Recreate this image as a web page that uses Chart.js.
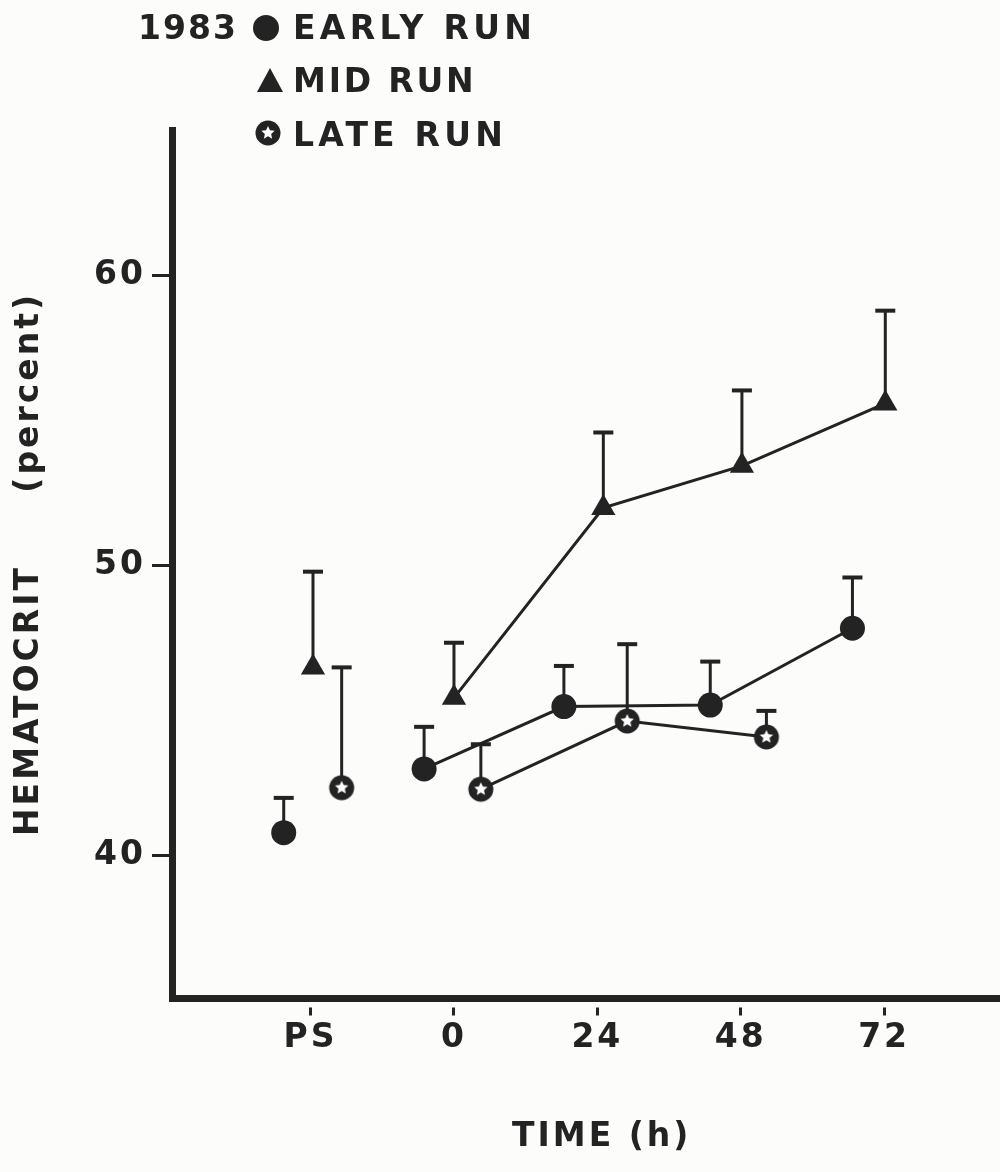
<!DOCTYPE html>
<html>
<head>
<meta charset="utf-8">
<title>Hematocrit 1983</title>
<script src="https://cdn.jsdelivr.net/npm/chart.js@4.4.1/dist/chart.umd.min.js"></script>
<style>
  html, body { margin: 0; padding: 0; background: #fcfcfa; }
  canvas { display: block; }
</style>
</head>
<body>
<canvas id="grafico" width="1000" height="1172"></canvas>
<script>
// Datos (hematocrito en %, tiempo en h)
const tiempoTicks = [-24, 0, 24, 48, 72];
const tiempoEtiquetas = ['PS', '0', '24', '48', '72'];
const hematocritoTicks = [40, 50, 60];

const earlyX = [-28.5, -5, 18.4, 42.9, 66.7];
const earlyY = [40.8, 43.0, 45.15, 45.2, 47.85];
const earlySD = [1.2, 1.45, 1.4, 1.5, 1.75];

const midX = [-23.6, 0, 25, 48.2, 72.2];
const midY = [46.5, 45.45, 52.0, 53.45, 55.6];
const midSD = [3.3, 1.9, 2.6, 2.6, 3.2];

const lateX = [-18.8, 4.5, 29, 52.3];
const lateY = [42.35, 42.3, 44.65, 44.1];
const lateSD = [4.15, 1.55, 2.65, 0.9];

const tinta = '#232323';
const fuente = '"DejaVu Sans", sans-serif';

// Marcador circular con estrella blanca (LATE RUN)
function marcadorEstrella() {
    const c = document.createElement('canvas');
    c.width = 28;
    c.height = 28;
    const g = c.getContext('2d');
    g.fillStyle = tinta;
    g.beginPath();
    g.arc(14, 14, 12.5, 0, Math.PI * 2);
    g.fill();
    g.fillStyle = '#ffffff';
    g.beginPath();
    for (let i = 0; i < 10; i++) {
        const r = i % 2 === 0 ? 7 : 3.3;
        const a = -Math.PI / 2 + i * Math.PI / 5;
        const px = 14 + r * Math.cos(a);
        const py = 14 + r * Math.sin(a);
        if (i === 0) g.moveTo(px, py); else g.lineTo(px, py);
    }
    g.closePath();
    g.fill();
    return c;
}
const imgEstrella = marcadorEstrella();

function puntos(xs, ys) {
    return xs.map((x, i) => ({ x: x, y: ys[i] }));
}

// El punto PS no va unido al resto
const sinTramoPS = {
    borderColor: ctx => ctx.p0DataIndex === 0 ? 'rgba(0,0,0,0)' : tinta
};

// Barras de error (solo hacia arriba, con tope)
const barrasError = {
    id: 'barrasError',
    beforeDatasetsDraw(chart) {
        const ctx = chart.ctx;
        const xs = chart.scales.x;
        const ys = chart.scales.y;
        ctx.save();
        ctx.strokeStyle = tinta;
        ctx.fillStyle = tinta;
        ctx.lineWidth = 3;
        chart.data.datasets.forEach(ds => {
            ds.data.forEach((p, i) => {
                const x = xs.getPixelForValue(p.x);
                const y0 = ys.getPixelForValue(p.y);
                const y1 = ys.getPixelForValue(p.y + ds.sd[i]);
                ctx.beginPath();
                ctx.moveTo(x, y0);
                ctx.lineTo(x, y1);
                ctx.stroke();
                ctx.fillRect(x - 10, y1 - 2, 20, 4);
            });
        });
        ctx.restore();
    }
};

// Espaciado de letras y textos fijos (leyenda y título del eje X)
const textos = {
    id: 'textos',
    beforeDraw(chart) {
        chart.ctx.letterSpacing = '3px';
    },
    afterDraw(chart) {
        const ctx = chart.ctx;
        ctx.save();
        ctx.fillStyle = tinta;
        ctx.font = 'bold 33px ' + fuente;
        ctx.textBaseline = 'alphabetic';
        ctx.textAlign = 'left';
        ctx.letterSpacing = '2px';
        ctx.fillText('1983', 138, 39);
        ctx.letterSpacing = '4.3px';
        ctx.fillText('EARLY RUN', 293, 39);
        ctx.letterSpacing = '2.8px';
        ctx.fillText('MID RUN', 293, 92);
        ctx.letterSpacing = '4.2px';
        ctx.fillText('LATE RUN', 293, 146);

        // marcadores de la leyenda
        ctx.beginPath();
        ctx.arc(266, 28, 13, 0, Math.PI * 2);
        ctx.fill();
        ctx.beginPath();
        ctx.moveTo(270, 68);
        ctx.lineTo(283, 92);
        ctx.lineTo(257, 92);
        ctx.closePath();
        ctx.fill();
        ctx.drawImage(imgEstrella, 268 - 14, 133 - 14);

        ctx.letterSpacing = '3px';
        ctx.fillText('TIME (h)', 512, 1146);
        ctx.restore();
    }
};

new Chart(document.getElementById('grafico'), {
    type: 'scatter',
    data: {
        datasets: [
            {
                label: 'EARLY RUN',
                data: puntos(earlyX, earlyY),
                sd: earlySD,
                showLine: true,
                borderColor: tinta,
                borderWidth: 3,
                pointStyle: 'circle',
                pointRadius: 12.5,
                pointBackgroundColor: tinta,
                pointBorderColor: tinta,
                pointBorderWidth: 0,
                segment: sinTramoPS
            },
            {
                label: 'MID RUN',
                data: puntos(midX, midY),
                sd: midSD,
                showLine: true,
                borderColor: tinta,
                borderWidth: 3,
                pointStyle: 'triangle',
                pointRadius: 14,
                pointBackgroundColor: tinta,
                pointBorderColor: tinta,
                pointBorderWidth: 0,
                segment: sinTramoPS
            },
            {
                label: 'LATE RUN',
                data: puntos(lateX, lateY),
                sd: lateSD,
                showLine: true,
                borderColor: tinta,
                borderWidth: 3,
                pointStyle: imgEstrella,
                pointRadius: 13,
                segment: sinTramoPS
            }
        ]
    },
    options: {
        responsive: false,
        animation: false,
        devicePixelRatio: 1,
        layout: {
            autoPadding: false,
            padding: { top: 130, right: 0, left: 0, bottom: 0 }
        },
        plugins: {
            legend: { display: false },
            tooltip: { enabled: false }
        },
        scales: {
            x: {
                type: 'linear',
                min: -47.2,
                max: 91.4,
                afterBuildTicks: scale => {
                    scale.ticks = tiempoTicks.map(v => ({ value: v }));
                },
                afterFit: scale => {
                    scale.height = 174;
                    scale.paddingLeft = 0;
                    scale.paddingRight = 0;
                },
                ticks: {
                    color: tinta,
                    font: { family: fuente, size: 33, weight: 'bold' },
                    padding: 3,
                    maxRotation: 0,
                    callback: value => tiempoEtiquetas[tiempoTicks.indexOf(value)]
                },
                grid: {
                    drawOnChartArea: false,
                    drawTicks: true,
                    tickLength: 18,
                    tickWidth: 3,
                    tickColor: tinta,
                    tickBorderDash: [0, 5.5, 8, 5]
                },
                border: { display: true, color: tinta, width: 7 },
                title: { display: false }
            },
            y: {
                type: 'linear',
                min: 35.1,
                max: 65.03,
                afterBuildTicks: scale => {
                    scale.ticks = hematocritoTicks.map(v => ({ value: v }));
                },
                afterFit: scale => {
                    scale.width = 172;
                    scale.paddingTop = 0;
                    scale.paddingBottom = 0;
                },
                ticks: {
                    color: tinta,
                    font: { family: fuente, size: 33, weight: 'bold' },
                    padding: 6
                },
                grid: {
                    drawOnChartArea: false,
                    drawTicks: true,
                    tickLength: 20,
                    tickWidth: 3,
                    tickColor: tinta
                },
                border: { display: true, color: tinta, width: 7 },
                title: {
                    display: true,
                    text: 'HEMATOCRIT     (percent)',
                    color: tinta,
                    font: { family: fuente, size: 33, weight: 'bold' },
                    padding: 10
                }
            }
        }
    },
    plugins: [barrasError, textos]
});
</script>
</body>
</html>
